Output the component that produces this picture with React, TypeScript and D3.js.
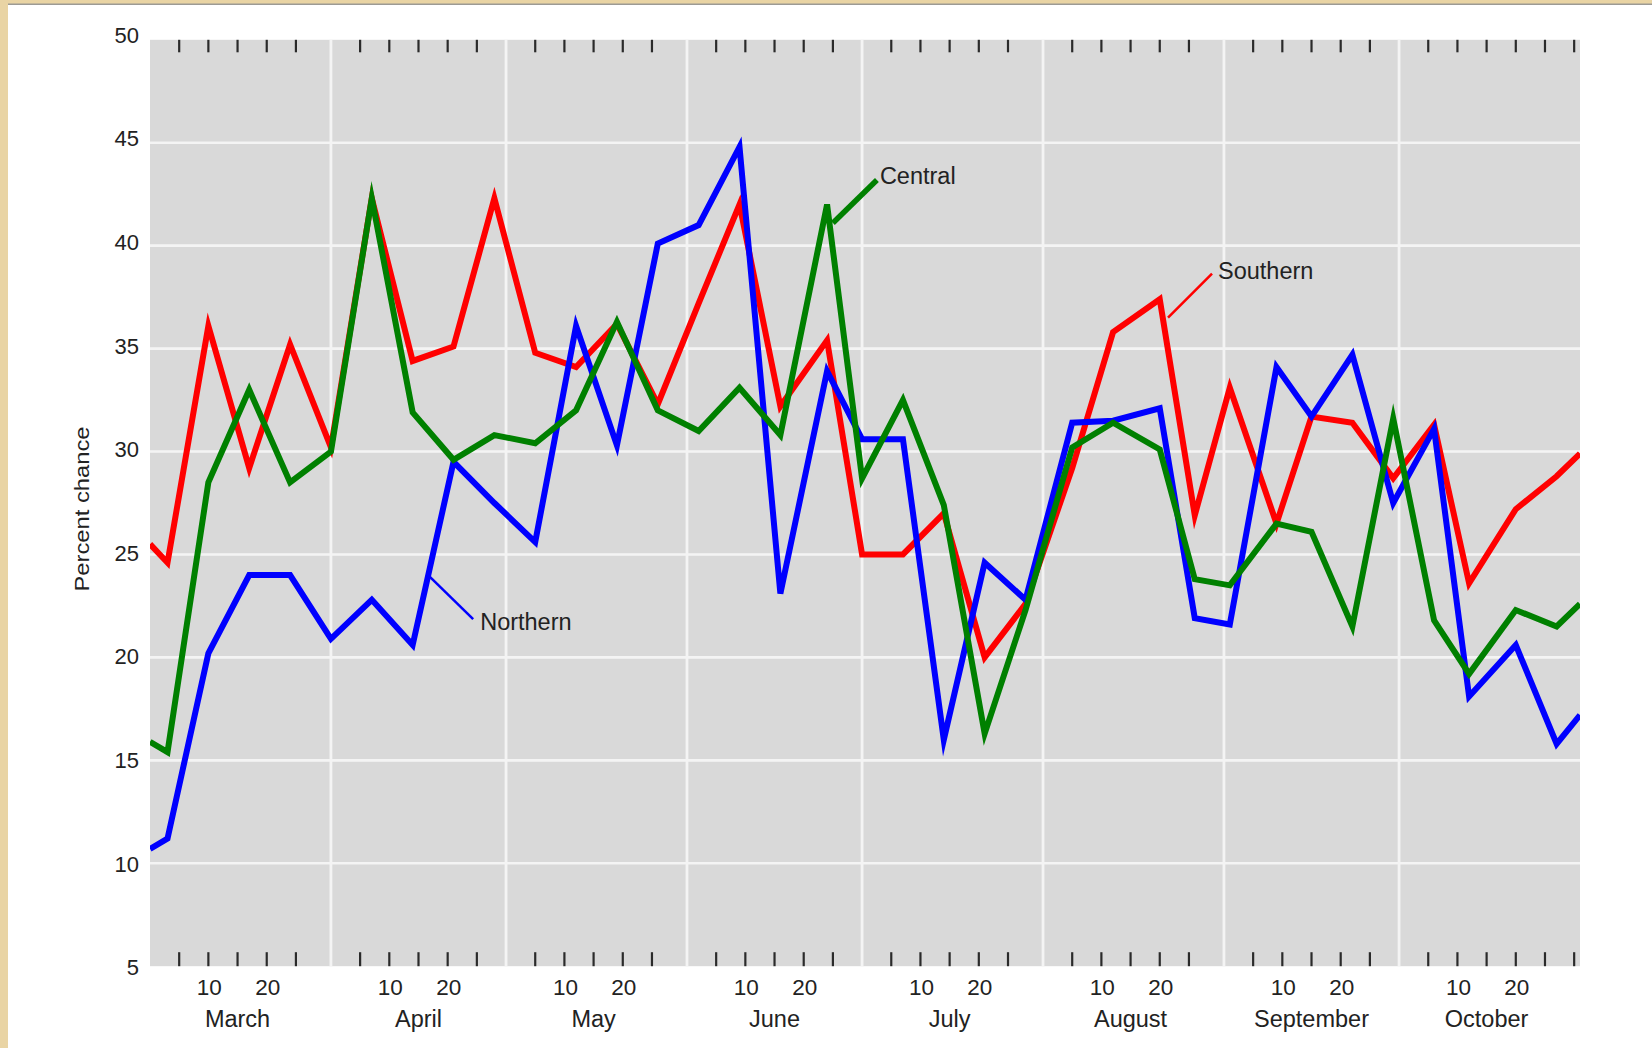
import React from "react";
import * as d3 from "d3";

// ---------- data ----------
const DATES = [
  "2000-02-29", "2000-03-03", "2000-03-10", "2000-03-17", "2000-03-24", "2000-03-31",
  "2000-04-07", "2000-04-14", "2000-04-21", "2000-04-28", "2000-05-05", "2000-05-12",
  "2000-05-19", "2000-05-26", "2000-06-02", "2000-06-09", "2000-06-16", "2000-06-24",
  "2000-06-30", "2000-07-07", "2000-07-14", "2000-07-21", "2000-07-28", "2000-08-05",
  "2000-08-12", "2000-08-20", "2000-08-26", "2000-09-01", "2000-09-09", "2000-09-15",
  "2000-09-22", "2000-09-29", "2000-10-06", "2000-10-12", "2000-10-20", "2000-10-27",
  "2000-10-31",
];

const SOUTHERN = [
  25.5, 24.6, 36.1, 29.2, 35.2, 30.2, 42.3, 34.4, 35.1, 42.3, 34.8, 34.1,
  36.2, 32.3, 37.2, 42.0, 32.2, 35.4, 25.0, 25.0, 27.0, 20.0, 22.6, 29.2,
  35.8, 37.4, 26.9, 33.1, 26.5, 31.7, 31.4, 28.7, 31.3, 23.6, 27.2, 28.8,
  29.9,
];

const NORTHERN = [
  10.7, 11.2, 20.2, 24.0, 24.0, 20.9, 22.8, 20.6, 29.5, 27.5, 25.6, 36.1,
  30.3, 40.1, 41.0, 44.8, 23.1, 33.9, 30.6, 30.6, 16.0, 24.6, 22.8, 31.4,
  31.5, 32.1, 21.9, 21.6, 34.1, 31.7, 34.7, 27.5, 31.1, 18.1, 20.6, 15.8,
  17.2,
];

const CENTRAL = [
  15.9, 15.4, 28.5, 33.0, 28.5, 30.0, 42.3, 31.9, 29.6, 30.8, 30.4, 32.0,
  36.3, 32.0, 31.0, 33.1, 30.8, 42.0, 28.7, 32.5, 27.4, 16.3, 22.3, 30.2,
  31.4, 30.1, 23.8, 23.5, 26.5, 26.1, 21.5, 31.6, 21.8, 19.2, 22.3, 21.5,
  22.6,
];

const MONTHS = ["March", "April", "May", "June", "July", "August", "September", "October"];
const Y_TICKS = [5, 10, 15, 20, 25, 30, 35, 40, 45, 50];
const DAY_TICKS = [5, 10, 15, 20, 25];
const LAST_MONTH_EXTRA_DAYS = [30];
const LABELLED_DAYS = [10, 20];

const SERIES = [
  { name: "Southern", values: SOUTHERN, color: "#ff0000" },
  { name: "Northern", values: NORTHERN, color: "#0000ff" },
  { name: "Central", values: CENTRAL, color: "#008000" },
];

const ANNOTATIONS = [
  { label: "Central", color: "#008000", date: "2000-06-25T00:00Z", value: 41.1, lx: 44, ly: -43, tx: 47, ty: -39, sw: 5.5 },
  { label: "Southern", color: "#ff0000", date: "2000-08-21T10:00Z", value: 36.5, lx: 44, ly: -44, tx: 50, ty: -39, sw: 2.5 },
  { label: "Northern", color: "#0000ff", date: "2000-04-17T00:00Z", value: 23.9, lx: 43, ly: 42, tx: 50, ty: 53, sw: 2.5 },
];

// ---------- layout ----------
const W = 1652;
const H = 1048;
const PL = 150;
const PR = 1580;
const PT = 39.8;
const PB = 966.2;
const FONT = "'Liberation Sans', Arial, Helvetica, sans-serif";
const TEXT = "#222";

export default function App() {
  const parse = d3.utcParse("%Y-%m-%d");
  const x = d3
    .scaleUtc()
    .domain([new Date(Date.UTC(2000, 1, 29)), new Date(Date.UTC(2000, 9, 31))])
    .range([PL, PR]);
  const y = d3.scaleLinear().domain([5, 50]).range([PB, PT]);
  // tick-label centres drift slightly from the gridlines in the original
  const yLabel = d3.scaleLinear().domain([5, 50]).range([PB + 1.3, PT - 4.8]);

  const dates = DATES.map((s) => parse(s) as Date);
  const line = d3
    .line<number>()
    .x((_, i) => x(dates[i]))
    .y((v) => y(v));

  const monthStart = (k: number) => new Date(Date.UTC(2000, 2 + k, 0));
  const monthDay = (k: number, d: number) => new Date(Date.UTC(2000, 2 + k, d));

  const dividers = MONTHS.slice(1).map((_, i) => x(monthStart(i + 1)));

  const ticks: { x: number; label: string | null }[] = [];
  MONTHS.forEach((_, k) => {
    const days = k === MONTHS.length - 1 ? [...DAY_TICKS, ...LAST_MONTH_EXTRA_DAYS] : DAY_TICKS;
    days.forEach((d) => {
      ticks.push({ x: x(monthDay(k, d)), label: LABELLED_DAYS.includes(d) ? String(d) : null });
    });
  });

  return (
    <div style={{ position: "absolute", left: 0, top: 0, width: W, height: H, overflow: "hidden" }}>
      <svg width={W} height={H} style={{ display: "block" }} fontFamily={FONT}>
        <defs>
          <clipPath id="plotClip">
            <rect x={PL} y={PT} width={PR - PL} height={PB - PT} />
          </clipPath>
        </defs>
        {/* page background */}
        <rect x={0} y={0} width={W} height={H} fill="#e9d4a4" />
        <rect x={8} y={5} width={W - 8} height={H - 5} fill="#ffffff" />
        <line x1={8} x2={W} y1={4.2} y2={4.2} stroke="#9c9a94" strokeWidth={1.6} />

        {/* plot panel */}
        <rect x={PL} y={PT} width={PR - PL} height={PB - PT} fill="#d9d9d9" />
        {Y_TICKS.filter((v) => v !== 5 && v !== 50).map((v) => (
          <line key={"g" + v} x1={PL} x2={PR} y1={y(v)} y2={y(v)} stroke="#f4f4f4" strokeWidth={2.6} />
        ))}
        {dividers.map((dx, i) => (
          <line key={"d" + i} x1={dx} x2={dx} y1={PT} y2={PB} stroke="#f4f4f4" strokeWidth={2.8} />
        ))}

        {/* day ticks top & bottom */}
        {ticks.map((t, i) => (
          <g key={"t" + i}>
            <line x1={t.x} x2={t.x} y1={PT} y2={PT + 12.5} stroke="#2a2a2a" strokeWidth={2.2} />
            <line x1={t.x} x2={t.x} y1={PB - 14} y2={PB} stroke="#2a2a2a" strokeWidth={2.2} />
            {t.label && (
              <text x={t.x + 1} y={995} fontSize={22.5} fill={TEXT} textAnchor="middle">
                {t.label}
              </text>
            )}
          </g>
        ))}

        {/* month labels */}
        {MONTHS.map((m, k) => (
          <text key={m} x={x(monthDay(k, 15))} y={1027} fontSize={23.5} fill={TEXT} textAnchor="middle">
            {m}
          </text>
        ))}

        {/* y labels */}
        {Y_TICKS.map((v) => (
          <text key={"y" + v} x={139} y={yLabel(v) + 7.8} fontSize={22} fill={TEXT} textAnchor="end">
            {v}
          </text>
        ))}
        <text
          transform={`translate(89, 509) rotate(-90)`}
          fontSize={21}
          fill={TEXT}
          textAnchor="middle"
          textLength={165}
          lengthAdjust="spacingAndGlyphs"
        >
          Percent chance
        </text>

        {/* series */}
        <g clipPath="url(#plotClip)">
          {SERIES.map((s) => (
            <path
              key={s.name}
              d={line(s.values) || ""}
              fill="none"
              stroke={s.color}
              strokeWidth={6}
              strokeLinejoin="miter"
              strokeMiterlimit={6}
            />
          ))}
        </g>

        {/* annotations */}
        {ANNOTATIONS.map((a) => {
          const ax = x(new Date(a.date));
          const ay = y(a.value);
          return (
            <g key={a.label}>
              <line x1={ax} y1={ay} x2={ax + a.lx} y2={ay + a.ly} stroke={a.color} strokeWidth={a.sw} />
              <text x={ax + a.tx} y={ay + a.ty} fontSize={23.5} fill={TEXT}>
                {a.label}
              </text>
            </g>
          );
        })}
      </svg>
    </div>
  );
}
